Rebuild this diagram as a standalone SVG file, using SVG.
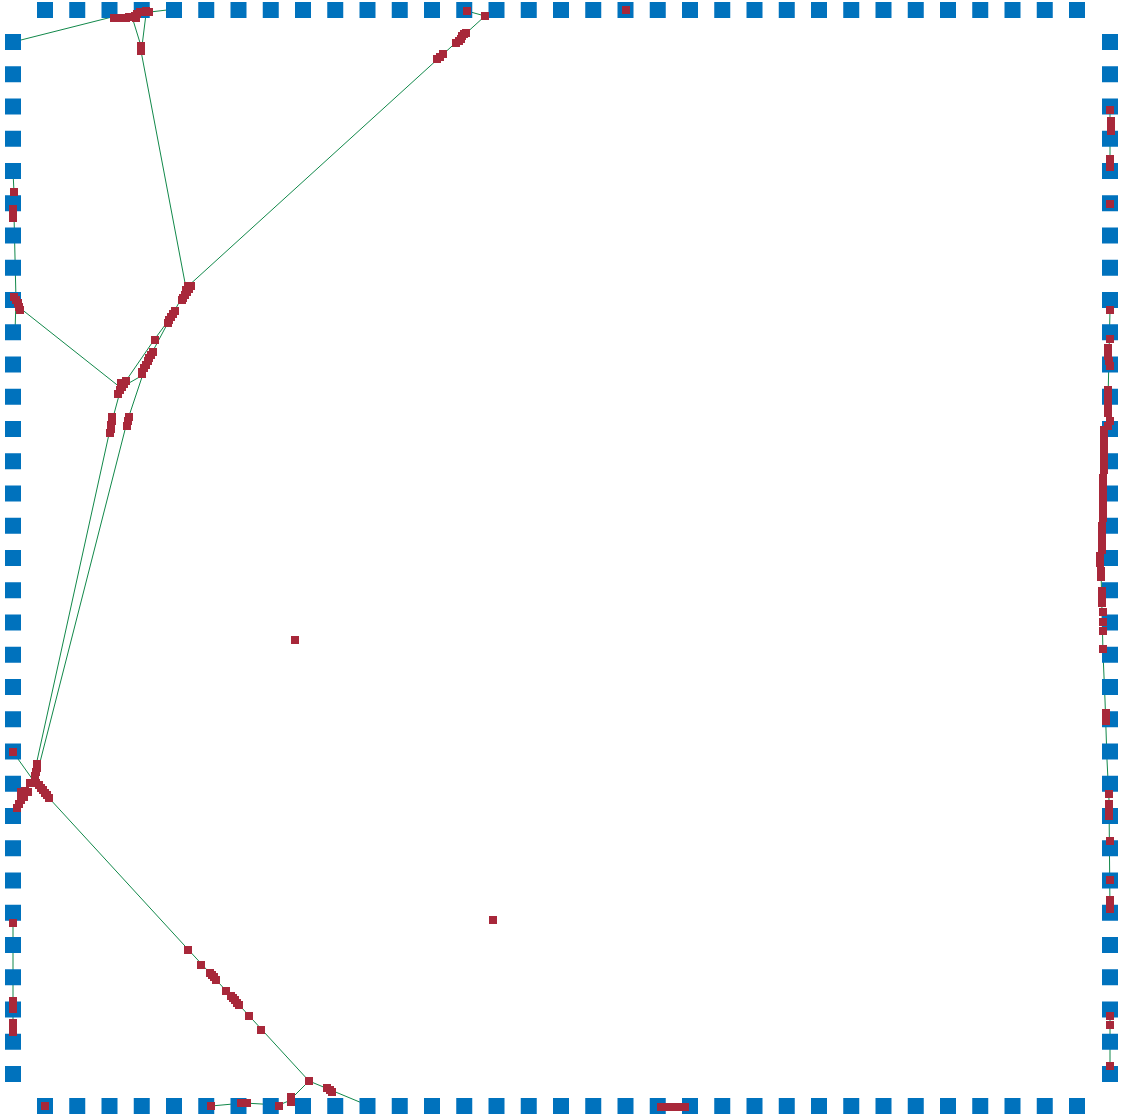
<svg xmlns="http://www.w3.org/2000/svg" xmlns:xlink="http://www.w3.org/1999/xlink" width="1126" height="1117" viewBox="0 0 1126 1117">
<style>
.b{fill:#0072BD}
.r{fill:#A8283A}
.e{fill:none;stroke:#11884a;stroke-width:1}
</style>
<defs>
<rect id="bs" class="b" x="-8" y="-8" width="16" height="16"/>
<rect id="rs" class="r" x="-4" y="-4" width="8" height="8"/>
</defs>
<rect width="1126" height="1117" fill="#fff"/>
<g id="edges">
<polyline class="e" points="13,42 112,17"/>
<polyline class="e" points="133,20 141,46"/>
<polyline class="e" points="146,14 142,46"/>
<polyline class="e" points="150,12 167,10"/>
<polyline class="e" points="141,51 186,288"/>
<polyline class="e" points="186,288 440,57 485,16"/>
<polyline class="e" points="467,11 485,16"/>
<polyline class="e" points="13,172 14,192 14,215 16,300 15,332"/>
<polyline class="e" points="20,308 121,388"/>
<polyline class="e" points="121,388 154,340 171,317 186,290"/>
<polyline class="e" points="147,362 171,317"/>
<polyline class="e" points="129,383 143,375"/>
<polyline class="e" points="147,362 127,422 38,770"/>
<polyline class="e" points="121,388 111,425 35,770"/>
<polyline class="e" points="13,752 33,780"/>
<polyline class="e" points="49,798 309,1081 362,1103"/>
<polyline class="e" points="309,1081 291,1099"/>
<polyline class="e" points="211,1106 244,1103 279,1105 291,1100"/>
<polyline class="e" points="13,923 13,1028"/>
<polyline class="e" points="1110,110 1110,163"/>
<polyline class="e" points="1110,310 1108,400 1103,520 1101,570 1103,653 1105,700 1107,760 1109,800 1110,913"/>
<polyline class="e" points="1110,1012 1110,1066"/>
</g>
<g id="border-nodes">
<g id="t0"><use href="#bs" x="45" y="10"/></g>
<g id="t1"><use href="#bs" x="77.25" y="10"/></g>
<g id="t2"><use href="#bs" x="109.5" y="10"/></g>
<g id="t3"><use href="#bs" x="141.75" y="10"/></g>
<g id="t4"><use href="#bs" x="174" y="10"/></g>
<g id="t5"><use href="#bs" x="206.25" y="10"/></g>
<g id="t6"><use href="#bs" x="238.5" y="10"/></g>
<g id="t7"><use href="#bs" x="270.75" y="10"/></g>
<g id="t8"><use href="#bs" x="303" y="10"/></g>
<g id="t9"><use href="#bs" x="335.25" y="10"/></g>
<g id="t10"><use href="#bs" x="367.5" y="10"/></g>
<g id="t11"><use href="#bs" x="399.75" y="10"/></g>
<g id="t12"><use href="#bs" x="432" y="10"/></g>
<g id="t13"><use href="#bs" x="464.25" y="10"/></g>
<g id="t14"><use href="#bs" x="496.5" y="10"/></g>
<g id="t15"><use href="#bs" x="528.75" y="10"/></g>
<g id="t16"><use href="#bs" x="561" y="10"/></g>
<g id="t17"><use href="#bs" x="593.25" y="10"/></g>
<g id="t18"><use href="#bs" x="625.5" y="10"/></g>
<g id="t19"><use href="#bs" x="657.75" y="10"/></g>
<g id="t20"><use href="#bs" x="690" y="10"/></g>
<g id="t21"><use href="#bs" x="722.25" y="10"/></g>
<g id="t22"><use href="#bs" x="754.5" y="10"/></g>
<g id="t23"><use href="#bs" x="786.75" y="10"/></g>
<g id="t24"><use href="#bs" x="819" y="10"/></g>
<g id="t25"><use href="#bs" x="851.25" y="10"/></g>
<g id="t26"><use href="#bs" x="883.5" y="10"/></g>
<g id="t27"><use href="#bs" x="915.75" y="10"/></g>
<g id="t28"><use href="#bs" x="948" y="10"/></g>
<g id="t29"><use href="#bs" x="980.25" y="10"/></g>
<g id="t30"><use href="#bs" x="1012.5" y="10"/></g>
<g id="t31"><use href="#bs" x="1044.75" y="10"/></g>
<g id="t32"><use href="#bs" x="1077" y="10"/></g>
<g id="bt0"><use href="#bs" x="45" y="1106"/></g>
<g id="bt1"><use href="#bs" x="77.25" y="1106"/></g>
<g id="bt2"><use href="#bs" x="109.5" y="1106"/></g>
<g id="bt3"><use href="#bs" x="141.75" y="1106"/></g>
<g id="bt4"><use href="#bs" x="174" y="1106"/></g>
<g id="bt5"><use href="#bs" x="206.25" y="1106"/></g>
<g id="bt6"><use href="#bs" x="238.5" y="1106"/></g>
<g id="bt7"><use href="#bs" x="270.75" y="1106"/></g>
<g id="bt8"><use href="#bs" x="303" y="1106"/></g>
<g id="bt9"><use href="#bs" x="335.25" y="1106"/></g>
<g id="bt10"><use href="#bs" x="367.5" y="1106"/></g>
<g id="bt11"><use href="#bs" x="399.75" y="1106"/></g>
<g id="bt12"><use href="#bs" x="432" y="1106"/></g>
<g id="bt13"><use href="#bs" x="464.25" y="1106"/></g>
<g id="bt14"><use href="#bs" x="496.5" y="1106"/></g>
<g id="bt15"><use href="#bs" x="528.75" y="1106"/></g>
<g id="bt16"><use href="#bs" x="561" y="1106"/></g>
<g id="bt17"><use href="#bs" x="593.25" y="1106"/></g>
<g id="bt18"><use href="#bs" x="625.5" y="1106"/></g>
<g id="bt19"><use href="#bs" x="657.75" y="1106"/></g>
<g id="bt20"><use href="#bs" x="690" y="1106"/></g>
<g id="bt21"><use href="#bs" x="722.25" y="1106"/></g>
<g id="bt22"><use href="#bs" x="754.5" y="1106"/></g>
<g id="bt23"><use href="#bs" x="786.75" y="1106"/></g>
<g id="bt24"><use href="#bs" x="819" y="1106"/></g>
<g id="bt25"><use href="#bs" x="851.25" y="1106"/></g>
<g id="bt26"><use href="#bs" x="883.5" y="1106"/></g>
<g id="bt27"><use href="#bs" x="915.75" y="1106"/></g>
<g id="bt28"><use href="#bs" x="948" y="1106"/></g>
<g id="bt29"><use href="#bs" x="980.25" y="1106"/></g>
<g id="bt30"><use href="#bs" x="1012.5" y="1106"/></g>
<g id="bt31"><use href="#bs" x="1044.75" y="1106"/></g>
<g id="bt32"><use href="#bs" x="1077" y="1106"/></g>
<g id="l0"><use href="#bs" x="13" y="42"/></g>
<g id="l1"><use href="#bs" x="13" y="74.25"/></g>
<g id="l2"><use href="#bs" x="13" y="106.5"/></g>
<g id="l3"><use href="#bs" x="13" y="138.75"/></g>
<g id="l4"><use href="#bs" x="13" y="171"/></g>
<g id="l5"><use href="#bs" x="13" y="203.25"/></g>
<g id="l6"><use href="#bs" x="13" y="235.5"/></g>
<g id="l7"><use href="#bs" x="13" y="267.75"/></g>
<g id="l8"><use href="#bs" x="13" y="300"/></g>
<g id="l9"><use href="#bs" x="13" y="332.25"/></g>
<g id="l10"><use href="#bs" x="13" y="364.5"/></g>
<g id="l11"><use href="#bs" x="13" y="396.75"/></g>
<g id="l12"><use href="#bs" x="13" y="429"/></g>
<g id="l13"><use href="#bs" x="13" y="461.25"/></g>
<g id="l14"><use href="#bs" x="13" y="493.5"/></g>
<g id="l15"><use href="#bs" x="13" y="525.75"/></g>
<g id="l16"><use href="#bs" x="13" y="558"/></g>
<g id="l17"><use href="#bs" x="13" y="590.25"/></g>
<g id="l18"><use href="#bs" x="13" y="622.5"/></g>
<g id="l19"><use href="#bs" x="13" y="654.75"/></g>
<g id="l20"><use href="#bs" x="13" y="687"/></g>
<g id="l21"><use href="#bs" x="13" y="719.25"/></g>
<g id="l22"><use href="#bs" x="13" y="751.5"/></g>
<g id="l23"><use href="#bs" x="13" y="783.75"/></g>
<g id="l24"><use href="#bs" x="13" y="816"/></g>
<g id="l25"><use href="#bs" x="13" y="848.25"/></g>
<g id="l26"><use href="#bs" x="13" y="880.5"/></g>
<g id="l27"><use href="#bs" x="13" y="912.75"/></g>
<g id="l28"><use href="#bs" x="13" y="945"/></g>
<g id="l29"><use href="#bs" x="13" y="977.25"/></g>
<g id="l30"><use href="#bs" x="13" y="1009.5"/></g>
<g id="l31"><use href="#bs" x="13" y="1041.75"/></g>
<g id="l32"><use href="#bs" x="13" y="1074"/></g>
<g id="r0"><use href="#bs" x="1110" y="42"/></g>
<g id="r1"><use href="#bs" x="1110" y="74.25"/></g>
<g id="r2"><use href="#bs" x="1110" y="106.5"/></g>
<g id="r3"><use href="#bs" x="1110" y="138.75"/></g>
<g id="r4"><use href="#bs" x="1110" y="171"/></g>
<g id="r5"><use href="#bs" x="1110" y="203.25"/></g>
<g id="r6"><use href="#bs" x="1110" y="235.5"/></g>
<g id="r7"><use href="#bs" x="1110" y="267.75"/></g>
<g id="r8"><use href="#bs" x="1110" y="300"/></g>
<g id="r9"><use href="#bs" x="1110" y="332.25"/></g>
<g id="r10"><use href="#bs" x="1110" y="364.5"/></g>
<g id="r11"><use href="#bs" x="1110" y="396.75"/></g>
<g id="r12"><use href="#bs" x="1110" y="429"/></g>
<g id="r13"><use href="#bs" x="1110" y="461.25"/></g>
<g id="r14"><use href="#bs" x="1110" y="493.5"/></g>
<g id="r15"><use href="#bs" x="1110" y="525.75"/></g>
<g id="r16"><use href="#bs" x="1110" y="558"/></g>
<g id="r17"><use href="#bs" x="1110" y="590.25"/></g>
<g id="r18"><use href="#bs" x="1110" y="622.5"/></g>
<g id="r19"><use href="#bs" x="1110" y="654.75"/></g>
<g id="r20"><use href="#bs" x="1110" y="687"/></g>
<g id="r21"><use href="#bs" x="1110" y="719.25"/></g>
<g id="r22"><use href="#bs" x="1110" y="751.5"/></g>
<g id="r23"><use href="#bs" x="1110" y="783.75"/></g>
<g id="r24"><use href="#bs" x="1110" y="816"/></g>
<g id="r25"><use href="#bs" x="1110" y="848.25"/></g>
<g id="r26"><use href="#bs" x="1110" y="880.5"/></g>
<g id="r27"><use href="#bs" x="1110" y="912.75"/></g>
<g id="r28"><use href="#bs" x="1110" y="945"/></g>
<g id="r29"><use href="#bs" x="1110" y="977.25"/></g>
<g id="r30"><use href="#bs" x="1110" y="1009.5"/></g>
<g id="r31"><use href="#bs" x="1110" y="1041.75"/></g>
<g id="r32"><use href="#bs" x="1110" y="1074"/></g>
</g>
<g id="inner-nodes">
<g id="p-topleft"><use href="#rs" x="114" y="18"/><use href="#rs" x="117" y="18"/><use href="#rs" x="120" y="18"/><use href="#rs" x="123" y="18"/><use href="#rs" x="126" y="18"/><use href="#rs" x="129" y="17"/><use href="#rs" x="132" y="17"/><use href="#rs" x="135" y="16"/><use href="#rs" x="137" y="14"/><use href="#rs" x="140" y="12"/><use href="#rs" x="143" y="12"/><use href="#rs" x="146" y="11"/><use href="#rs" x="149" y="12"/><use href="#rs" x="136" y="18"/></g>
<g id="p-tl2"><use href="#rs" x="141" y="46"/><use href="#rs" x="141" y="51"/></g>
<g id="p-t1"><use href="#rs" x="467" y="11"/></g>
<g id="p-t2"><use href="#rs" x="485" y="16"/></g>
<g id="p-t3"><use href="#rs" x="462" y="36"/><use href="#rs" x="464" y="34"/><use href="#rs" x="466" y="33"/></g>
<g id="p-t4"><use href="#rs" x="456" y="43"/><use href="#rs" x="459" y="41"/><use href="#rs" x="461" y="39"/></g>
<g id="p-t5"><use href="#rs" x="437" y="59"/><use href="#rs" x="440" y="57"/><use href="#rs" x="443" y="54"/></g>
<g id="p-t6"><use href="#rs" x="626" y="10"/></g>
<g id="p-m1"><use href="#rs" x="191" y="286"/><use href="#rs" x="188" y="286"/><use href="#rs" x="189" y="289"/><use href="#rs" x="186" y="290"/><use href="#rs" x="187" y="292"/><use href="#rs" x="185" y="295"/><use href="#rs" x="183" y="298"/><use href="#rs" x="182" y="300"/></g>
<g id="p-m2"><use href="#rs" x="175" y="311"/><use href="#rs" x="173" y="314"/><use href="#rs" x="171" y="317"/><use href="#rs" x="169" y="320"/><use href="#rs" x="168" y="323"/></g>
<g id="p-m3"><use href="#rs" x="155" y="340"/></g>
<g id="p-m4"><use href="#rs" x="153" y="352"/><use href="#rs" x="151" y="355"/><use href="#rs" x="149" y="358"/><use href="#rs" x="148" y="361"/><use href="#rs" x="146" y="365"/><use href="#rs" x="144" y="368"/><use href="#rs" x="142" y="372"/><use href="#rs" x="142" y="374"/></g>
<g id="p-m5"><use href="#rs" x="126" y="381"/><use href="#rs" x="121" y="383"/><use href="#rs" x="124" y="384"/><use href="#rs" x="122" y="387"/><use href="#rs" x="120" y="390"/><use href="#rs" x="118" y="394"/></g>
<g id="p-m6"><use href="#rs" x="112" y="417"/><use href="#rs" x="112" y="421"/><use href="#rs" x="111" y="425"/><use href="#rs" x="111" y="429"/><use href="#rs" x="110" y="433"/></g>
<g id="p-m7"><use href="#rs" x="129" y="417"/><use href="#rs" x="128" y="421"/><use href="#rs" x="127" y="426"/></g>
<g id="p-l1"><use href="#rs" x="14" y="192"/></g>
<g id="p-l2"><use href="#rs" x="13" y="209"/><use href="#rs" x="13" y="214"/><use href="#rs" x="13" y="218"/></g>
<g id="p-l3"><use href="#rs" x="14" y="297"/><use href="#rs" x="16" y="300"/><use href="#rs" x="18" y="303"/><use href="#rs" x="19" y="307"/><use href="#rs" x="20" y="310"/></g>
<g id="p-l4"><use href="#rs" x="13" y="752"/></g>
<g id="p-l5"><use href="#rs" x="37" y="764"/><use href="#rs" x="37" y="768"/><use href="#rs" x="36" y="772"/><use href="#rs" x="35" y="776"/><use href="#rs" x="35" y="779"/><use href="#rs" x="30" y="783"/><use href="#rs" x="33" y="783"/><use href="#rs" x="36" y="783"/><use href="#rs" x="39" y="785"/><use href="#rs" x="41" y="788"/><use href="#rs" x="43" y="790"/><use href="#rs" x="45" y="793"/><use href="#rs" x="47" y="795"/><use href="#rs" x="49" y="798"/><use href="#rs" x="21" y="792"/><use href="#rs" x="25" y="791"/><use href="#rs" x="28" y="792"/><use href="#rs" x="24" y="797"/><use href="#rs" x="21" y="800"/><use href="#rs" x="19" y="804"/><use href="#rs" x="17" y="808"/></g>
<g id="p-l6"><use href="#rs" x="13" y="923"/></g>
<g id="p-l7"><use href="#rs" x="13" y="1001"/><use href="#rs" x="13" y="1005"/><use href="#rs" x="13" y="1009"/></g>
<g id="p-l8"><use href="#rs" x="13" y="1023"/><use href="#rs" x="13" y="1027"/><use href="#rs" x="13" y="1032"/></g>
<g id="p-d1"><use href="#rs" x="188" y="950"/></g>
<g id="p-d2"><use href="#rs" x="201" y="965"/></g>
<g id="p-d3"><use href="#rs" x="210" y="973"/><use href="#rs" x="212" y="975"/><use href="#rs" x="214" y="977"/><use href="#rs" x="216" y="980"/></g>
<g id="p-d4"><use href="#rs" x="226" y="991"/></g>
<g id="p-d5"><use href="#rs" x="231" y="996"/><use href="#rs" x="233" y="998"/><use href="#rs" x="235" y="1000"/><use href="#rs" x="237" y="1003"/><use href="#rs" x="239" y="1005"/></g>
<g id="p-d6"><use href="#rs" x="249" y="1016"/></g>
<g id="p-d7"><use href="#rs" x="261" y="1030"/></g>
<g id="p-d8"><use href="#rs" x="309" y="1081"/></g>
<g id="p-d9"><use href="#rs" x="327" y="1088"/><use href="#rs" x="330" y="1090"/><use href="#rs" x="332" y="1092"/></g>
<g id="p-b1"><use href="#rs" x="45" y="1106"/></g>
<g id="p-b2"><use href="#rs" x="211" y="1106"/></g>
<g id="p-b3"><use href="#rs" x="241" y="1103"/><use href="#rs" x="247" y="1103"/></g>
<g id="p-b4"><use href="#rs" x="279" y="1106"/></g>
<g id="p-b5"><use href="#rs" x="291" y="1097"/><use href="#rs" x="291" y="1102"/></g>
<g id="p-b6"><use href="#rs" x="661" y="1107"/><use href="#rs" x="669" y="1107"/><use href="#rs" x="677" y="1107"/><use href="#rs" x="685" y="1107"/></g>
<g id="p-c1"><use href="#rs" x="295" y="640"/></g>
<g id="p-c2"><use href="#rs" x="493" y="920"/></g>
<g id="p-r1"><use href="#rs" x="1110" y="110"/></g>
<g id="p-r2"><use href="#rs" x="1111" y="121"/><use href="#rs" x="1111" y="126"/><use href="#rs" x="1111" y="131"/></g>
<g id="p-r3"><use href="#rs" x="1110" y="159"/><use href="#rs" x="1110" y="163"/><use href="#rs" x="1110" y="167"/></g>
<g id="p-r4"><use href="#rs" x="1110" y="204"/></g>
<g id="p-r5"><use href="#rs" x="1110" y="310"/></g>
<g id="p-r6"><use href="#rs" x="1110" y="339"/></g>
<g id="p-r7"><use href="#rs" x="1108" y="348"/><use href="#rs" x="1108" y="352"/><use href="#rs" x="1108" y="356"/><use href="#rs" x="1109" y="361"/><use href="#rs" x="1110" y="366"/></g>
<g id="p-r8"><use href="#rs" x="1108" y="390"/><use href="#rs" x="1108" y="398"/><use href="#rs" x="1108" y="406"/><use href="#rs" x="1108" y="413"/><use href="#rs" x="1110" y="421"/><use href="#rs" x="1108" y="426"/></g>
<g id="p-r9"><use href="#rs" x="1104" y="430"/><use href="#rs" x="1104" y="438"/><use href="#rs" x="1104" y="446"/><use href="#rs" x="1104" y="454"/><use href="#rs" x="1104" y="462"/><use href="#rs" x="1104" y="470"/><use href="#rs" x="1103" y="478"/><use href="#rs" x="1103" y="486"/><use href="#rs" x="1103" y="494"/><use href="#rs" x="1103" y="502"/><use href="#rs" x="1103" y="510"/><use href="#rs" x="1103" y="518"/><use href="#rs" x="1102" y="526"/><use href="#rs" x="1102" y="534"/><use href="#rs" x="1102" y="542"/><use href="#rs" x="1102" y="550"/><use href="#rs" x="1100" y="556"/><use href="#rs" x="1100" y="563"/><use href="#rs" x="1101" y="571"/><use href="#rs" x="1101" y="577"/></g>
<g id="p-r10"><use href="#rs" x="1102" y="591"/><use href="#rs" x="1102" y="599"/><use href="#rs" x="1102" y="603"/><use href="#rs" x="1103" y="612"/><use href="#rs" x="1103" y="622"/><use href="#rs" x="1103" y="631"/></g>
<g id="p-r11"><use href="#rs" x="1103" y="649"/></g>
<g id="p-r12"><use href="#rs" x="1106" y="713"/><use href="#rs" x="1106" y="717"/><use href="#rs" x="1106" y="721"/></g>
<g id="p-r13"><use href="#rs" x="1109" y="794"/></g>
<g id="p-r14"><use href="#rs" x="1109" y="804"/><use href="#rs" x="1109" y="812"/><use href="#rs" x="1109" y="816"/></g>
<g id="p-r15"><use href="#rs" x="1110" y="841"/></g>
<g id="p-r16"><use href="#rs" x="1110" y="880"/></g>
<g id="p-r17"><use href="#rs" x="1110" y="900"/><use href="#rs" x="1110" y="905"/><use href="#rs" x="1110" y="909"/></g>
<g id="p-r18"><use href="#rs" x="1110" y="1016"/></g>
<g id="p-r19"><use href="#rs" x="1110" y="1025"/></g>
<g id="p-r20"><use href="#rs" x="1110" y="1066"/></g>
</g>
</svg>
